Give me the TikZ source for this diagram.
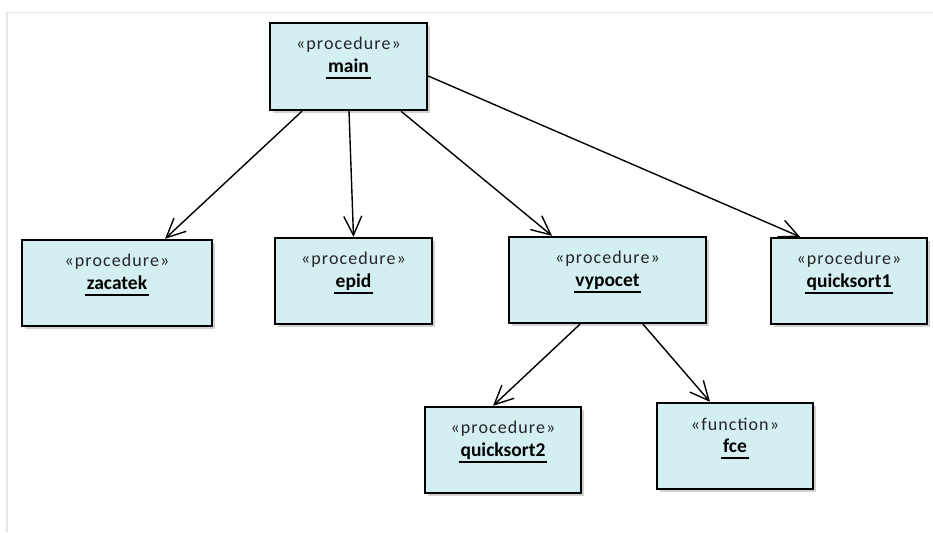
\documentclass[tikz,border=0pt]{standalone}
\usepackage{fontspec}
\setmainfont{Carlito}
\newfontfamily\stereofont[LetterSpace=6]{Carlito}
\usetikzlibrary{arrows.meta,shadows}
\definecolor{boxfill}{HTML}{D3EFF2}
\definecolor{framegray}{HTML}{E6E6E6}
\definecolor{stereogray}{HTML}{262626}
\tikzset{
  umlbox/.style={draw=black, line width=2.4pt, fill=boxfill, inner sep=0pt,
    drop shadow={shadow xshift=3pt, shadow yshift=-3pt, fill=black!35, opacity=0.5}},
  stereo/.style={inner sep=0pt, text=stereogray, font=\stereofont\fontsize{18}{20}\selectfont},
  uname/.style={inner sep=0pt, font=\fontsize{19.5}{22}\selectfont\bfseries},
  uline/.style={line width=1.8pt},
  call/.style={line width=1.4pt, -{Straight Barb[length=19pt,width=18pt,line width=1.4pt]}},
  frame/.style={draw=framegray, line width=1.2pt}
}
% \umlproc{id}{cx}{cy}{w}{h}{stereotype}{name}
\newcommand{\umlproc}[7]{%
  \node[umlbox, minimum width=#4pt, minimum height=#5pt] (#1) at (#2,#3) {};
  \node[stereo] (#1-s) at ([yshift=-23pt]#1.north) {«#6»};
  \node[uname, anchor=base] (#1-n) at ([yshift=-51pt]#1.north) {#7};
  \draw[uline] ([yshift=-5.5pt,xshift=-1.5pt]#1-n.base west) -- ([yshift=-5.5pt,xshift=1.5pt]#1-n.base east);
}
\begin{document}
\begin{tikzpicture}[x=1pt,y=-1pt]
  \useasboundingbox (0,0) rectangle (933,532);
  \fill[white] (0,0) rectangle (933,532);
  % outer frame edges
  \draw[frame] (7,532) -- (7,12.5) -- (933,12.5);

  \umlproc{main}{348.5}{66.5}{157}{87}{procedure}{main}
  \umlproc{zacatek}{117}{283}{190}{86}{procedure}{zacatek}
  \umlproc{epid}{353.5}{281}{157}{86}{procedure}{epid}
  \umlproc{vypocet}{607.5}{280}{197}{86}{procedure}{vypocet}
  \umlproc{qs1}{849}{281}{156}{86}{procedure}{quicksort1}
  \umlproc{qs2}{503}{450}{156}{86}{procedure}{quicksort2}
  \umlproc{fce}{735}{446}{156}{86}{function}{fce}

  % calls
  \draw[call] ([xshift=-46.5pt]main.south) -- ([xshift=48pt]zacatek.north);
  \draw[call] ([xshift=0.5pt]main.south) -- ([xshift=0pt]epid.north);
  \draw[call] ([xshift=52.5pt]main.south) -- ([xshift=-55.5pt]vypocet.north);
  \draw[call] ([yshift=-9.5pt]main.east) -- ([xshift=-49pt]qs1.north);
  \draw[call] ([xshift=-27.5pt]vypocet.south) -- ([xshift=-10pt]qs2.north);
  \draw[call] ([xshift=35.5pt]vypocet.south) -- ([xshift=-25pt]fce.north);
\end{tikzpicture}
\end{document}
